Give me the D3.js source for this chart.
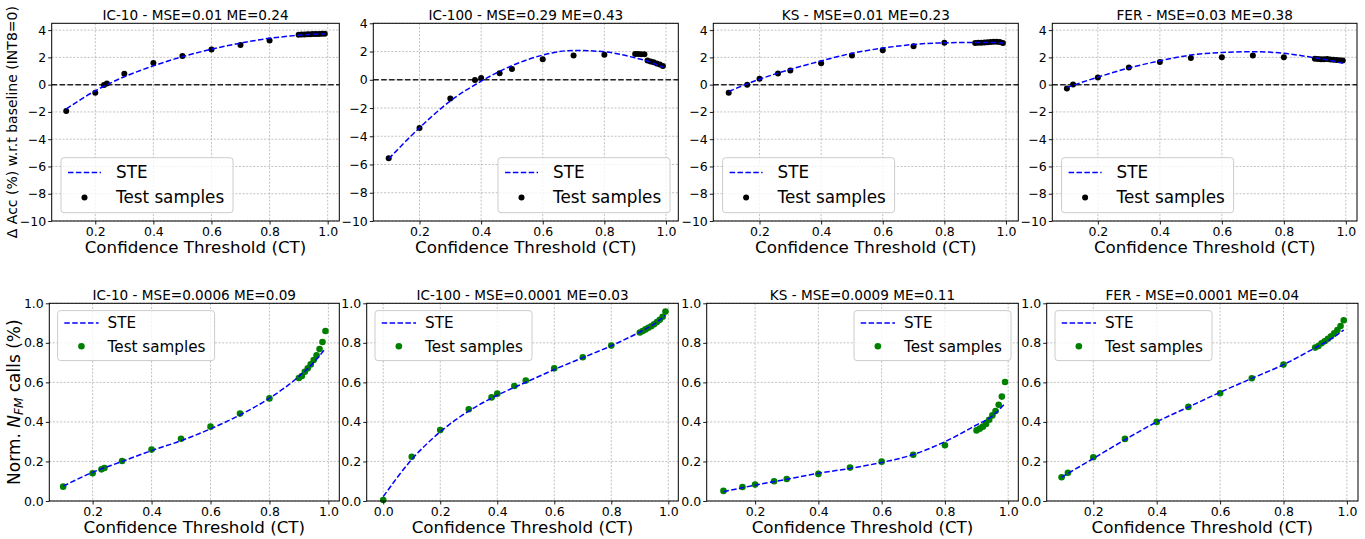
<!DOCTYPE html>
<html>
<head>
<meta charset="utf-8">
<script src="https://cdn.jsdelivr.net/npm/d3@7"></script>
<style>
  body { margin: 0; background: #fff; }
  svg text { font-family: "DejaVu Sans", sans-serif; fill: #000; }
</style>
</head>
<body>
<div id="chart"></div>
<script>
const width = 1365, height = 539;

// confidence thresholds of the test samples
const ctIc10 = [0.1, 0.2, 0.23, 0.24, 0.3, 0.4, 0.5, 0.6, 0.7, 0.8, 0.9, 0.91, 0.92, 0.93, 0.94, 0.95, 0.96, 0.97, 0.98, 0.99];
const ctIc100 = [0.1, 0.2, 0.3, 0.38, 0.4, 0.46, 0.5, 0.6, 0.7, 0.8, 0.9, 0.91, 0.92, 0.93, 0.94, 0.95, 0.96, 0.97, 0.98, 0.99];
const ctIc100Calls = [0.0, 0.1, 0.2, 0.3, 0.38, 0.4, 0.46, 0.5, 0.6, 0.7, 0.8, 0.9, 0.91, 0.92, 0.93, 0.94, 0.95, 0.96, 0.97, 0.98, 0.99];
const ctKs = [0.1, 0.16, 0.2, 0.26, 0.3, 0.4, 0.5, 0.6, 0.7, 0.8, 0.9, 0.91, 0.92, 0.93, 0.94, 0.95, 0.96, 0.97, 0.98, 0.99];
const ctFer = [0.1, 0.12, 0.2, 0.3, 0.4, 0.5, 0.6, 0.7, 0.8, 0.9, 0.91, 0.92, 0.93, 0.94, 0.95, 0.96, 0.97, 0.98, 0.99];

// thresholds where the STE curve is read
const steCt = [0.1, 0.2, 0.3, 0.4, 0.5, 0.6, 0.7, 0.8, 0.9, 0.95, 0.99];
const steCtFrom0 = [0.0, 0.1, 0.2, 0.3, 0.4, 0.5, 0.6, 0.7, 0.8, 0.9, 0.95, 0.99];

// delta accuracy (%) - test samples
const ic10Acc = [-1.93, -0.59, -0.02, 0.08, 0.8, 1.58, 2.1, 2.58, 2.9, 3.24, 3.66, 3.67, 3.68, 3.69, 3.70, 3.71, 3.72, 3.72, 3.73, 3.73];
const ic100Acc = [-5.55, -3.42, -1.32, -0.02, 0.12, 0.47, 0.76, 1.46, 1.72, 1.77, 1.83, 1.82, 1.81, 1.80, 1.36, 1.30, 1.24, 1.16, 1.08, 0.98];
const ksAcc = [-0.59, 0.0, 0.44, 0.81, 1.03, 1.57, 2.13, 2.53, 2.82, 3.07, 3.05, 3.07, 3.08, 3.10, 3.11, 3.12, 3.14, 3.15, 3.12, 3.06];
const ferAcc = [-0.29, 0.02, 0.52, 1.25, 1.67, 1.96, 2.01, 2.13, 2.01, 1.9, 1.88, 1.86, 1.87, 1.88, 1.85, 1.82, 1.80, 1.79, 1.78];

// delta accuracy (%) - STE estimate
const ic10AccSte = [-1.78, -0.45, 0.58, 1.38, 2.05, 2.6, 3.05, 3.4, 3.62, 3.7, 3.72];
const ic100AccSte = [-5.6, -3.4, -1.5, -0.1, 1.0, 1.75, 2.08, 1.98, 1.55, 1.25, 0.9];
const ksAccSte = [-0.5, 0.4, 1.12, 1.74, 2.3, 2.68, 2.95, 3.07, 3.1, 3.1, 3.05];
const ferAccSte = [-0.2, 0.55, 1.22, 1.75, 2.17, 2.36, 2.42, 2.3, 1.97, 1.78, 1.57];

// normalised N_FM calls - test samples
const ic10Calls = [0.0725, 0.14, 0.16, 0.167, 0.202, 0.26, 0.315, 0.376, 0.442, 0.519, 0.622, 0.632, 0.654, 0.671, 0.691, 0.713, 0.737, 0.769, 0.804, 0.86];
const ic100Calls = [0.005, 0.224, 0.359, 0.464, 0.524, 0.543, 0.582, 0.609, 0.671, 0.727, 0.786, 0.852, 0.860, 0.868, 0.876, 0.884, 0.894, 0.905, 0.917, 0.932, 0.958];
const ksCalls = [0.051, 0.071, 0.083, 0.1, 0.111, 0.137, 0.169, 0.199, 0.234, 0.282, 0.357, 0.366, 0.376, 0.39, 0.411, 0.433, 0.455, 0.487, 0.528, 0.602];
const ferCalls = [0.12, 0.143, 0.221, 0.314, 0.4, 0.476, 0.545, 0.621, 0.69, 0.776, 0.784, 0.798, 0.808, 0.821, 0.833, 0.848, 0.865, 0.885, 0.914];

// normalised N_FM calls - STE estimate
const ic10CallsSte = [0.075, 0.145, 0.2, 0.255, 0.305, 0.365, 0.435, 0.52, 0.63, 0.7, 0.772];
const ic100CallsSte = [0.022, 0.21, 0.35, 0.455, 0.535, 0.6, 0.665, 0.725, 0.785, 0.855, 0.895, 0.94];
const ksCallsSte = [0.047, 0.08, 0.11, 0.14, 0.165, 0.195, 0.235, 0.3, 0.385, 0.43, 0.494];
const ferCallsSte = [0.12, 0.215, 0.31, 0.4, 0.475, 0.55, 0.62, 0.69, 0.775, 0.82, 0.865];

// tick labels
const accTicks = [-10, -8, -6, -4, -2, 0, 2, 4];
const callTicks = [0, 0.2, 0.4, 0.6, 0.8, 1.0];
const ctTicks = [0.2, 0.4, 0.6, 0.8, 1.0];
const ctTicksFrom0 = [0.0, 0.2, 0.4, 0.6, 0.8, 1.0];

const titles = [
  'IC-10 - MSE=0.01 ME=0.24', 'IC-100 - MSE=0.29 ME=0.43', 'KS - MSE=0.01 ME=0.23', 'FER - MSE=0.03 ME=0.38',
  'IC-10 - MSE=0.0006 ME=0.09', 'IC-100 - MSE=0.0001 ME=0.03', 'KS - MSE=0.0009 ME=0.11', 'FER - MSE=0.0001 ME=0.04'
];

const rows = [
  { y0: 23.3, y1: 221, ticks: accTicks, fmt: d3.format('d'), color: '#000', zeroLine: true, legFont: 16.8,
    leg: { w: 172, h: 55, pad: 8.3, l0: 7, l1: 40, tx: 55, y1: 14.7, y2: 39.7 }, r: 3 },
  { y0: 303.3, y1: 501, ticks: callTicks, fmt: d3.format('.1f'), color: '#008000', zeroLine: false, legFont: 15.2,
    leg: { w: 157, h: 50, pad: 7.3, l0: 6.7, l1: 41, tx: 50, y1: 12.3, y2: 35.7 }, r: 3.3 }
];

const panels = [
  { row: 0, x0: 51.7, x1: 339.3, xd: [0.05, 1.04], yd: [-10, 4.5], ct: ctIc10, vals: ic10Acc, sCt: steCt, ste: ic10AccSte, xt: ctTicks, loc: 'lower left' },
  { row: 0, x0: 373.3, x1: 678.3, xd: [0.05, 1.04], yd: [-10, 4], ct: ctIc100, vals: ic100Acc, sCt: steCt, ste: ic100AccSte, xt: ctTicks, loc: 'lower right' },
  { row: 0, x0: 713.3, x1: 1018.3, xd: [0.05, 1.04], yd: [-10, 4.5], ct: ctKs, vals: ksAcc, sCt: steCt, ste: ksAccSte, xt: ctTicks, loc: 'lower left' },
  { row: 0, x0: 1052.3, x1: 1357, xd: [0.053, 1.036], yd: [-10, 4.5], ct: ctFer, vals: ferAcc, sCt: steCt, ste: ferAccSte, xt: ctTicks, loc: 'lower left' },
  { row: 1, x0: 49.3, x1: 339.3, xd: [0.053, 1.037], yd: [0, 1], ct: ctIc10, vals: ic10Calls, sCt: steCt, ste: ic10CallsSte, xt: ctTicks, loc: 'upper left' },
  { row: 1, x0: 366.7, x1: 678.3, xd: [-0.058, 1.035], yd: [0, 1], ct: ctIc100Calls, vals: ic100Calls, sCt: steCtFrom0, ste: ic100CallsSte, xt: ctTicksFrom0, loc: 'upper left' },
  { row: 1, x0: 706.7, x1: 1018.3, xd: [0.047, 1.032], yd: [0, 1], ct: ctKs, vals: ksCalls, sCt: steCt, ste: ksCallsSte, xt: ctTicks, loc: 'upper right' },
  { row: 1, x0: 1046.7, x1: 1358, xd: [0.053, 1.035], yd: [0, 1], ct: ctFer, vals: ferCalls, sCt: steCt, ste: ferCallsSte, xt: ctTicks, loc: 'upper left' }
];

const svg = d3.select('#chart').append('svg')
    .attr('width', width).attr('height', height)
    .style('display', 'block');

panels.forEach(function (p, i) {
  const row = rows[p.row];
  const x = d3.scaleLinear().domain(p.xd).range([p.x0, p.x1]);
  const y = d3.scaleLinear().domain(p.yd).range([row.y1, row.y0]);
  const g = svg.append('g');

  // grid
  g.append('g').selectAll('line').data(p.xt).enter().append('line')
      .attr('x1', d => x(d)).attr('x2', d => x(d))
      .attr('y1', row.y0).attr('y2', row.y1)
      .attr('stroke', '#a8a8a8').attr('stroke-width', 0.7).attr('stroke-dasharray', '2,1.6');
  g.append('g').selectAll('line').data(row.ticks).enter().append('line')
      .attr('x1', p.x0).attr('x2', p.x1)
      .attr('y1', d => y(d)).attr('y2', d => y(d))
      .attr('stroke', '#a8a8a8').attr('stroke-width', 0.7).attr('stroke-dasharray', '2,1.6');

  if (row.zeroLine) {
    g.append('line')
        .attr('x1', p.x0).attr('x2', p.x1).attr('y1', y(0)).attr('y2', y(0))
        .attr('stroke', '#222').attr('stroke-width', 1.5).attr('stroke-dasharray', '5.5,2.4');
  }

  // test samples
  g.append('g').selectAll('circle').data(p.ct).enter().append('circle')
      .attr('cx', d => x(d)).attr('cy', (d, j) => y(p.vals[j]))
      .attr('r', row.r).attr('fill', row.color);

  // STE curve
  const line = d3.line()
      .curve(d3.curveMonotoneX)
      .x(d => x(d))
      .y((d, j) => y(p.ste[j]));
  g.append('path')
      .attr('d', line(p.sCt))
      .attr('fill', 'none').attr('stroke', '#0000ff')
      .attr('stroke-width', 1.5).attr('stroke-dasharray', '5.5,2.4');

  // spines
  g.append('rect')
      .attr('x', p.x0).attr('y', row.y0)
      .attr('width', p.x1 - p.x0).attr('height', row.y1 - row.y0)
      .attr('fill', 'none').attr('stroke', '#000').attr('stroke-width', 1);

  // axes
  const xAxis = g.append('g').attr('transform', 'translate(0,' + row.y1 + ')')
      .call(d3.axisBottom(x).tickValues(p.xt).tickFormat(d3.format('.1f')).tickSize(3.5).tickPadding(2.5));
  const yAxis = g.append('g').attr('transform', 'translate(' + p.x0 + ',0)')
      .call(d3.axisLeft(y).tickValues(row.ticks).tickFormat(row.fmt).tickSize(3.5).tickPadding(2));
  [xAxis, yAxis].forEach(a => {
    a.select('.domain').remove();
    a.selectAll('text').attr('font-size', 12.5).attr('font-family', '"DejaVu Sans", sans-serif');
    a.selectAll('line').attr('stroke', '#000').attr('stroke-width', 0.9);
  });

  // title and x label
  g.append('text')
      .attr('x', (p.x0 + p.x1) / 2).attr('y', row.y0 - 3.5)
      .attr('text-anchor', 'middle').attr('font-size', 13.6)
      .text(titles[i]);
  g.append('text')
      .attr('x', (p.x0 + p.x1) / 2).attr('y', row.y1 + 31.5)
      .attr('text-anchor', 'middle').attr('font-size', 16.7)
      .text('Confidence Threshold (CT)');

  // legend
  const L = row.leg;
  let bx = p.loc.indexOf('left') >= 0 ? p.x0 + L.pad + 1 : p.x1 - L.pad - L.w;
  let by = p.loc.indexOf('lower') >= 0 ? row.y1 - L.pad - L.h : row.y0 + L.pad;
  const leg = g.append('g').attr('transform', 'translate(' + bx + ',' + by + ')');
  leg.append('rect')
      .attr('width', L.w).attr('height', L.h).attr('rx', 3)
      .attr('fill', '#fff').attr('fill-opacity', 0.8)
      .attr('stroke', '#cccccc').attr('stroke-width', 1);
  leg.append('line')
      .attr('x1', L.l0).attr('x2', L.l1).attr('y1', L.y1).attr('y2', L.y1)
      .attr('stroke', '#0000ff').attr('stroke-width', 1.5).attr('stroke-dasharray', '5.5,2.4');
  leg.append('circle')
      .attr('cx', (L.l0 + L.l1) / 2).attr('cy', L.y2).attr('r', row.r).attr('fill', row.color);
  leg.append('text').attr('x', L.tx).attr('y', L.y1).attr('dy', '0.36em')
      .attr('font-size', row.legFont).text('STE');
  leg.append('text').attr('x', L.tx).attr('y', L.y2).attr('dy', '0.36em')
      .attr('font-size', row.legFont).text('Test samples');
});

// y labels
svg.append('text')
    .attr('transform', 'translate(12,' + (rows[0].y0 + rows[0].y1) / 2 + ') rotate(-90)')
    .attr('text-anchor', 'middle').attr('dy', '0.35em').attr('font-size', 14)
    .text('\u0394 Acc (%) w.r.t baseline (INT8=0)');

const yl2 = svg.append('text')
    .attr('transform', 'translate(14,' + (rows[1].y0 + rows[1].y1) / 2 + ') rotate(-90)')
    .attr('text-anchor', 'middle').attr('dy', '0.35em').attr('font-size', 17);
yl2.append('tspan').text('Norm. ');
yl2.append('tspan').attr('font-style', 'italic').text('N');
yl2.append('tspan').attr('font-style', 'italic').attr('font-size', 12).attr('dy', 3).text('FM');
yl2.append('tspan').attr('dy', -3).text(' calls (%)');
</script>
</body>
</html>
